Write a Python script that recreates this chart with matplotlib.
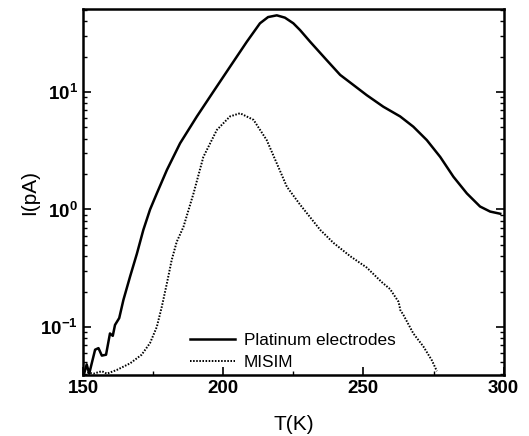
import numpy as np
import matplotlib.pyplot as plt
from matplotlib.ticker import LogLocator, NullFormatter, MultipleLocator

plt.rcParams['font.family'] = ['Liberation Sans', 'DejaVu Sans']
plt.rcParams['mathtext.fontset'] = 'custom'
plt.rcParams['mathtext.rm'] = 'Liberation Sans:bold'

# Platinum electrodes: current vs temperature
t_pt = [150.4, 151.3, 152.2, 153.1, 154.3, 155.5, 156.7, 158.2, 159.6, 160.6,
        161.4, 162.9, 164.4, 166.8, 169.2, 171.5, 173.9, 176.3, 179.9, 184.6,
        190.6, 196.5, 202.4, 208.4, 213.1, 216.0, 219.1, 222.0, 225.0, 227.4,
        231.0, 236.9, 241.7, 246.4, 251.2, 257.1, 263.1, 267.8, 272.6, 277.4,
        282.1, 286.9, 291.6, 295.2, 298.8]
i_pt = [0.040, 0.048, 0.040, 0.049, 0.064, 0.066, 0.057, 0.058, 0.088, 0.084,
        0.104, 0.119, 0.17, 0.27, 0.42, 0.67, 1.0, 1.37, 2.17, 3.66,
        6.2, 10.1, 16.4, 26.8, 38.5, 43.5, 45.0, 43.0, 38.5, 33.7,
        26.8, 18.7, 14.0, 11.5, 9.4, 7.5, 6.2, 5.07, 3.9, 2.8,
        1.9, 1.37, 1.06, 0.96, 0.92]

# MISIM: current vs temperature
t_mis = [151.5, 153.7, 156.7, 158.5, 162.0, 166.8, 170.9, 173.9, 176.3, 178.1,
         179.9, 181.6, 183.4, 185.8, 189.4, 192.9, 197.7, 202.4, 206.0, 210.8,
         215.5, 219.1, 222.7, 227.4, 234.6, 239.3, 245.3, 251.2, 256.6, 259.5,
         262.5, 262.9, 263.1, 264.3, 267.8, 271.4, 274.4, 276.2]
i_mis = [0.041, 0.040, 0.042, 0.040, 0.043, 0.049, 0.058, 0.073, 0.10, 0.149,
         0.235, 0.37, 0.53, 0.71, 1.37, 2.8, 4.75, 6.2, 6.6, 5.8,
         3.9, 2.47, 1.56, 1.1, 0.67, 0.52, 0.40, 0.32, 0.24, 0.21,
         0.164, 0.15, 0.14, 0.126, 0.088, 0.068, 0.052, 0.042]

fig = plt.figure(figsize=(5.29, 4.36), dpi=100)
ax = fig.add_axes([0.157, 0.140, 0.795, 0.839])

ax.plot(t_pt, i_pt, color='black', lw=1.8, label='Platinum electrodes')
ax.plot(t_mis, i_mis, color='black', lw=1.4, ls=(0, (0.8, 0.8)), label='MISIM')

ax.set_yscale('log')
ax.set_xlim(150, 300)
ax.set_ylim(0.039, 50.8)
ax.set_xticks([150, 200, 250, 300])
ax.xaxis.set_minor_locator(MultipleLocator(25))
ax.yaxis.set_major_locator(LogLocator(base=10, numticks=10))
ax.yaxis.set_minor_locator(LogLocator(base=10, subs=np.arange(2, 10), numticks=10))
ax.yaxis.set_minor_formatter(NullFormatter())

ax.tick_params(which='both', direction='in', top=False, right=True, labelsize=13.5)
ax.tick_params(which='major', length=6, width=1.2)
ax.tick_params(which='minor', length=3, width=1.0)
for lbl in ax.get_xticklabels() + ax.get_yticklabels():
    lbl.set_fontweight('bold')
for sp in ax.spines.values():
    sp.set_linewidth(1.8)

ax.set_xlabel('T(K)', fontsize=15, labelpad=13)
ax.set_ylabel('I(pA)', fontsize=15, labelpad=1)

ax.legend(loc='lower left', bbox_to_anchor=(0.218, -0.03), frameon=False,
          fontsize=12.4, handlelength=2.6, handletextpad=0.5, labelspacing=0.45)

fig.savefig('out.png', dpi=100)
